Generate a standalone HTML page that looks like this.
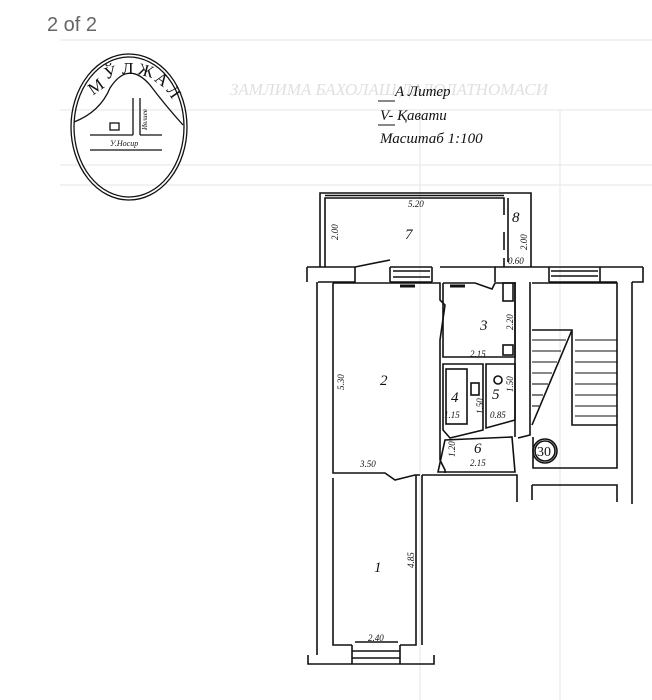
<!DOCTYPE html>
<html><head><meta charset="utf-8"><style>
body{margin:0;background:#fff;width:652px;height:700px;overflow:hidden}
svg{display:block}
text{font-family:"Liberation Serif",serif;font-style:italic;fill:#111}
</style></head><body>
<svg width="652" height="700" viewBox="0 0 652 700" xmlns="http://www.w3.org/2000/svg">
<rect width="652" height="700" fill="#fff"/>
<g stroke="#e6e6e6" stroke-width="1" fill="none">
<line x1="60" y1="40" x2="652" y2="40"/><line x1="60" y1="110" x2="652" y2="110"/>
<line x1="60" y1="165" x2="652" y2="165"/><line x1="60" y1="185" x2="652" y2="185"/>
<line x1="420" y1="110" x2="420" y2="700"/><line x1="560" y1="110" x2="560" y2="700"/>
</g>
<text x="230" y="95" font-size="17" style="fill:#e0e0e0">ЗАМЛИМА БАХОЛАШ ДАЛОЛАТНОМАСИ</text>
<text x="47" y="31" font-size="20" style="font-family:'Liberation Sans',sans-serif;font-style:normal;fill:#666">2 of 2</text>

<g stroke="#111" fill="none" stroke-width="1.3">
<ellipse cx="129" cy="127" rx="58" ry="73"/>
<ellipse cx="129" cy="127" rx="55" ry="70"/>
<path d="M74 122 Q100 112 110 88 Q128 60 150 85 Q165 105 183 125"/>
<rect x="110" y="123" width="9" height="7"/>
<line x1="90" y1="135" x2="133" y2="135"/><line x1="140" y1="135" x2="162" y2="135"/>
<line x1="90" y1="150" x2="162" y2="150"/>
<line x1="133" y1="98" x2="133" y2="135"/><line x1="140" y1="98" x2="140" y2="135"/>
</g>
<g font-size="17" style="font-style:normal">
<text x="88" y="92" transform="rotate(-35 96 86)" style="font-style:normal">М</text>
<text x="104" y="78" transform="rotate(-15 110 72)" style="font-style:normal">Ў</text>
<text x="122" y="74" style="font-style:normal">Л</text>
<text x="138" y="76" transform="rotate(15 145 72)" style="font-style:normal">Ж</text>
<text x="155" y="84" transform="rotate(35 160 80)" style="font-style:normal">А</text>
<text x="167" y="96" transform="rotate(55 172 92)" style="font-style:normal">Л</text>
</g>
<text x="110" y="146" font-size="8">У.Носир</text>
<text x="147" y="130" font-size="7" transform="rotate(-90 147 130)">Ивлиев</text>

<text x="395" y="96" font-size="15">А  Литер</text>
<text x="380" y="120" font-size="15">V- Қавати</text>
<text x="380" y="143" font-size="15">Масштаб 1:100</text>
<g stroke="#111" stroke-width="1"><line x1="378" y1="101" x2="395" y2="101"/><line x1="378" y1="125" x2="395" y2="125"/></g>

<g stroke="#111" stroke-width="1.6" fill="none">
<path d="M320 267 V193 H531 V267"/>
<path d="M325 267 V198 H504 V215 M504 232 V250 M504 258 V267"/>
<path d="M508 262 V198"/>
<line x1="325" y1="195.5" x2="504" y2="195.5"/>
<path d="M307 267 H355 L390 260 M390 267 H432 M432 282 V267 M390 282 V267 M390 282 H432"/>
<line x1="393" y1="271" x2="430" y2="271"/><line x1="393" y1="277" x2="430" y2="277"/>
<path d="M355 267 V282 H318"/>
<path d="M307 267 V282"/>
<path d="M440 267 H495 V282 M495 267"/>
<path d="M495 267 H549 V282 M549 267 H600 V282 H549 M600 267 H643 M600 267 V282 H617"/>
<line x1="551" y1="271" x2="598" y2="271"/><line x1="551" y1="276" x2="598" y2="276"/>
<path d="M317 282 V655 M333 283 V473 H385 L395 480 L415 475 H420"/>
<path d="M333 478 V645 H352 M400 645 H416 V475"/>
<path d="M308 655 V664 H434 V655 M352 645 V664 M400 645 V664"/>
<line x1="352" y1="651" x2="400" y2="651"/><line x1="352" y1="658" x2="400" y2="658"/>
<path d="M422 475 V645"/>
<path d="M333 283 H440 V300 L445 305 L440 340 V460 L445 470 V473"/>
<path d="M443 283 H475 L492 289 L495 283 H515 V357 H443 V283"/>
<rect x="503" y="283" width="10" height="18"/>
<rect x="503" y="345" width="10" height="10"/>
<path d="M443 364 H483 V430 L450 438 L443 430 Z"/>
<rect x="446" y="369" width="21" height="55"/>
<path d="M486 364 H515 V420 L486 428 Z"/>
<rect x="471" y="383" width="8" height="12"/>
<circle cx="498" cy="380" r="4"/>
<path d="M445 440 L438 472 H515 L512 437 Z"/>
<path d="M422 475 H517 V502"/>
<path d="M515 282 V437 M530 282 V435 L518 438"/>
<path d="M532 283 H617 V468 H533 V437"/>
<path d="M532 330 H572 V425 H617 M572 330 L532 425"/>
<g stroke-width="1.1">
<line x1="532" y1="340" x2="566" y2="340"/><line x1="532" y1="351" x2="561" y2="351"/><line x1="532" y1="362" x2="557" y2="362"/><line x1="532" y1="373" x2="552" y2="373"/><line x1="532" y1="384" x2="548" y2="384"/><line x1="532" y1="395" x2="543" y2="395"/><line x1="532" y1="406" x2="539" y2="406"/>
<line x1="575" y1="340" x2="617" y2="340"/><line x1="575" y1="351" x2="617" y2="351"/><line x1="575" y1="362" x2="617" y2="362"/><line x1="575" y1="373" x2="617" y2="373"/><line x1="575" y1="384" x2="617" y2="384"/><line x1="575" y1="395" x2="617" y2="395"/><line x1="575" y1="406" x2="617" y2="406"/><line x1="575" y1="416" x2="617" y2="416"/>
</g>
<path d="M532 485 H617 V502 M532 485 V500"/>
<path d="M632 282 V504 M643 267 V282 H632"/>
<circle cx="545" cy="451" r="12"/><circle cx="545" cy="451" r="10"/>
</g>
<g stroke="#111" stroke-width="3"><line x1="400" y1="286" x2="415" y2="286"/><line x1="450" y1="286" x2="465" y2="286"/><line x1="355" y1="642" x2="398" y2="642" stroke-width="1.5"/></g>

<g font-size="15">
<text x="405" y="239">7</text><text x="512" y="222">8</text>
<text x="480" y="330">3</text><text x="380" y="385">2</text>
<text x="451" y="402">4</text><text x="492" y="399">5</text>
<text x="474" y="453">6</text><text x="374" y="572">1</text>
<text x="537" y="456" font-size="14" style="font-style:normal">30</text>
</g>
<g font-size="9">
<text x="408" y="207">5.20</text>
<text x="338" y="240" transform="rotate(-90 338 240)">2.00</text>
<text x="527" y="250" transform="rotate(-90 527 250)">2.00</text>
<text x="508" y="264">0.60</text>
<text x="513" y="330" transform="rotate(-90 513 330)">2.20</text>
<text x="470" y="357">2.15</text>
<text x="344" y="390" transform="rotate(-90 344 390)">5.30</text>
<text x="444" y="418">1.15</text>
<text x="483" y="414" transform="rotate(-90 483 414)">1.50</text>
<text x="513" y="392" transform="rotate(-90 513 392)">1.50</text>
<text x="490" y="418">0.85</text>
<text x="455" y="457" transform="rotate(-90 455 457)">1.20</text>
<text x="470" y="466">2.15</text>
<text x="360" y="467">3.50</text>
<text x="414" y="568" transform="rotate(-90 414 568)">4.85</text>
<text x="368" y="641">2.40</text>
</g>
</svg>
</body></html>
